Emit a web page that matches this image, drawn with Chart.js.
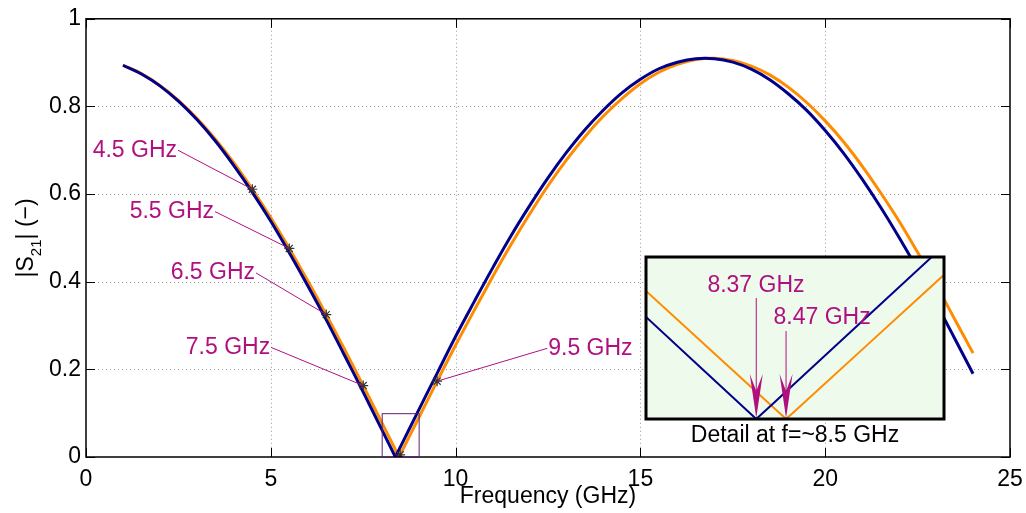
<!DOCTYPE html>
<html>
<head>
<meta charset="utf-8">
<script src="https://cdn.jsdelivr.net/npm/chart.js@4.4.0/dist/chart.umd.min.js"></script>
<style>
  body { margin: 0; background: #fff; }
  #wrap { position: relative; width: 1026px; height: 513px; }
  #mainChart { position: absolute; left: 0; top: 0; }
  #detailChart { position: absolute; left: 630px; top: 245px; }
</style>
</head>
<body>
<div id="wrap">
  <canvas id="mainChart" width="1026" height="513"></canvas>
  <canvas id="detailChart" width="330" height="210"></canvas>
</div>
<script>
// |S21| (GHz, -)
const freqBlue = [1, 1.5, 2, 2.5, 3, 3.5, 4, 4.5, 5, 5.5, 6, 6.5, 7, 7.5, 8, 8.37, 8.5, 9, 9.5, 10,
    10.5, 11, 11.5, 12, 12.5, 13, 13.5, 14, 14.5, 15, 15.5, 16, 16.5, 17, 17.5, 18, 18.5, 19, 19.5, 20,
    20.5, 21, 21.5, 22, 22.5, 23, 23.5, 24];
const s21Blue = [0.894, 0.874, 0.847, 0.812, 0.770, 0.721, 0.665, 0.604, 0.538, 0.466, 0.391, 0.313, 0.231, 0.148, 0.063, 0, 0.022, 0.107, 0.191, 0.275,
    0.354, 0.431, 0.505, 0.573, 0.637, 0.695, 0.747, 0.792, 0.831, 0.862, 0.886, 0.901, 0.909, 0.909, 0.901, 0.885, 0.861, 0.829, 0.791, 0.745,
    0.693, 0.634, 0.570, 0.501, 0.428, 0.351, 0.271, 0.190];

const freqOrange = [1, 1.5, 2, 2.5, 3, 3.5, 4, 4.5, 5, 5.5, 6, 6.5, 7, 7.5, 8, 8.47, 8.5, 9, 9.5, 10,
    10.5, 11, 11.5, 12, 12.5, 13, 13.5, 14, 14.5, 15, 15.5, 16, 16.5, 17, 17.5, 18, 18.5, 19, 19.5, 20,
    20.5, 21, 21.5, 22, 22.5, 23, 23.5, 24];
const s21Orange = [0.894, 0.875, 0.848, 0.814, 0.773, 0.725, 0.671, 0.611, 0.546, 0.476, 0.402, 0.325, 0.245, 0.163, 0.079, 0, 0.005, 0.089, 0.173, 0.255,
    0.334, 0.411, 0.485, 0.554, 0.619, 0.678, 0.731, 0.778, 0.818, 0.852, 0.878, 0.896, 0.907, 0.910, 0.905, 0.892, 0.872, 0.844, 0.809, 0.767,
    0.719, 0.664, 0.603, 0.538, 0.467, 0.393, 0.315, 0.237];

// star markers
const markFreq = [4.5, 5.5, 6.5, 7.5, 8.5, 9.5];
const markVal = [0.611, 0.476, 0.325, 0.163, 0.005, 0.173];

// text arrows on the main plot
const noteText = ["4.5 GHz", "5.5 GHz", "6.5 GHz", "7.5 GHz", "9.5 GHz"];
const noteFreq = [4.5, 5.5, 6.5, 7.5, 9.5];
const noteVal = [0.611, 0.476, 0.325, 0.163, 0.173];
const noteX = [2.49, 3.49, 4.60, 5.01, 12.48];
const noteY = [0.700, 0.560, 0.420, 0.250, 0.248];
const noteAlign = ["right", "right", "right", "right", "left"];

// detail box
const zoomBox = [8, 9, 0, 0.1];
const detailText = ["8.37 GHz", "8.47 GHz"];
const detailFreq = [8.37, 8.47];
const detailTop = [0.0747, 0.0543];
const detailLabelX = [8.369, 8.591];
const detailLabelY = [0.0821, 0.0623];
const detailCaption = "Detail at f=~8.5 GHz";

const xTicks = { min: 0, max: 25, step: 5 };
const yTicks = { min: 0, max: 1, step: 0.2 };

const fontFam = "'Liberation Sans', Arial, sans-serif",
    fontSize = 23,
    blue = "#00008b",
    orange = "#ff8c00",
    magenta = "#b0107f";

function pts(xs, ys) {
    return xs.map((v, i) => ({ x: v, y: ys[i] }));
}

// split a curve at its null so each branch is smoothed on its own (sharp V at the null)
function branches(xs, ys, color, width) {
    let k = ys.indexOf(0);
    let all = pts(xs, ys);
    return [all.slice(0, k + 1), all.slice(k)].map(d => ({
        data: d,
        borderColor: color,
        borderWidth: width,
        pointRadius: 0,
        tension: 0.4
    }));
}

function seg(ctx, x1, y1, x2, y2) {
    ctx.beginPath();
    ctx.moveTo(x1, y1);
    ctx.lineTo(x2, y2);
    ctx.stroke();
}

const mainPlugin = {
    id: "mainDeco",
    beforeDatasetsDraw(chart) {
        let ctx = chart.ctx, a = chart.chartArea, x = chart.scales.x, y = chart.scales.y;
        ctx.save();
        ctx.strokeStyle = "#9a9a9a";
        ctx.lineWidth = 1;
        ctx.setLineDash([1, 3]);
        x.ticks.forEach(t => {
            if (t.value <= x.min || t.value >= x.max) return;
            let px = Math.round(x.getPixelForValue(t.value)) + 0.5;
            seg(ctx, px, a.top, px, a.bottom);
        });
        y.ticks.forEach(t => {
            if (t.value <= y.min || t.value >= y.max) return;
            let py = Math.round(y.getPixelForValue(t.value)) + 0.5;
            seg(ctx, a.left, py, a.right, py);
        });
        ctx.restore();
    },
    afterDatasetsDraw(chart) {
        let ctx = chart.ctx, a = chart.chartArea, x = chart.scales.x, y = chart.scales.y;
        ctx.save();
        // frame + inward ticks
        ctx.strokeStyle = "#000";
        ctx.lineWidth = 1.5;
        ctx.strokeRect(a.left, a.top, a.right - a.left, a.bottom - a.top);
        ctx.lineWidth = 1;
        x.ticks.forEach(t => {
            let px = Math.round(x.getPixelForValue(t.value)) + 0.5;
            seg(ctx, px, a.bottom, px, a.bottom - 9);
            seg(ctx, px, a.top, px, a.top + 9);
        });
        y.ticks.forEach(t => {
            let py = Math.round(y.getPixelForValue(t.value)) + 0.5;
            seg(ctx, a.left, py, a.left + 9, py);
            seg(ctx, a.right, py, a.right - 9, py);
        });

        // zoom rectangle
        ctx.strokeStyle = "#5c1f6e";
        ctx.lineWidth = 1;
        let zx1 = x.getPixelForValue(zoomBox[0]), zx2 = x.getPixelForValue(zoomBox[1]),
            zy1 = y.getPixelForValue(zoomBox[2]), zy2 = y.getPixelForValue(zoomBox[3]);
        ctx.strokeRect(zx1 + 0.5, zy2 + 0.5, zx2 - zx1, zy1 - zy2);

        // text arrows
        ctx.font = fontSize + "px " + fontFam;
        ctx.fillStyle = magenta;
        ctx.strokeStyle = magenta;
        ctx.textBaseline = "middle";
        noteText.forEach((txt, i) => {
            let tx = x.getPixelForValue(noteX[i]), ty = y.getPixelForValue(noteY[i]);
            ctx.textAlign = noteAlign[i];
            ctx.fillText(txt, noteAlign[i] == "right" ? tx - 1 : tx + 1, ty);
            seg(ctx, tx, ty, x.getPixelForValue(noteFreq[i]), y.getPixelForValue(noteVal[i]));
        });

        // axis titles
        ctx.fillStyle = "#000";
        ctx.textAlign = "center";
        ctx.fillText("Frequency (GHz)", (a.left + a.right) / 2, 497);

        ctx.translate(33, (a.top + a.bottom) / 2);
        ctx.rotate(-Math.PI / 2);
        ctx.textBaseline = "alphabetic";
        ctx.textAlign = "left";
        let big = fontSize + "px " + fontFam, small = "15px " + fontFam;
        ctx.font = big;
        let w1 = ctx.measureText("|S").width, w3 = ctx.measureText("| (\u2212)").width;
        ctx.font = small;
        let w2 = ctx.measureText("21").width;
        let sx = -(w1 + w2 + w3) / 2;
        ctx.font = big;
        ctx.fillText("|S", sx, 0);
        ctx.font = small;
        ctx.fillText("21", sx + w1, 8);
        ctx.font = big;
        ctx.fillText("| (\u2212)", sx + w1 + w2, 0);
        ctx.restore();
    }
};

new Chart(document.getElementById("mainChart"), {
    type: "line",
    data: {
        datasets: [
            {
                data: pts(markFreq, markVal),
                showLine: false,
                pointStyle: "star",
                pointRadius: 5,
                pointBorderColor: "#333",
                pointBorderWidth: 1.2
            }
        ].concat(branches(freqBlue, s21Blue, blue, 3), branches(freqOrange, s21Orange, orange, 3))
    },
    options: {
        responsive: false,
        animation: false,
        events: [],
        layout: { padding: { top: 16, right: 16, left: 0, bottom: 0 } },
        scales: {
            x: {
                type: "linear",
                min: xTicks.min,
                max: xTicks.max,
                grid: { display: false },
                border: { display: false },
                ticks: {
                    stepSize: xTicks.step,
                    maxRotation: 0,
                    padding: 1,
                    color: "#000",
                    font: { family: fontFam, size: fontSize }
                },
                afterFit: function (scale) { scale.height = 56; }
            },
            y: {
                min: yTicks.min,
                max: yTicks.max,
                grid: { display: false, drawTicks: false },
                border: { display: false },
                ticks: {
                    stepSize: yTicks.step,
                    padding: 5,
                    color: "#000",
                    font: { family: fontFam, size: fontSize },
                    callback: v => String(+v.toFixed(2))
                },
                afterFit: function (scale) { scale.width = 86; }
            }
        },
        plugins: { legend: { display: false }, tooltip: { enabled: false } }
    },
    plugins: [mainPlugin]
});

const detailPlugin = {
    id: "detailDeco",
    beforeDatasetsDraw(chart) {
        let ctx = chart.ctx, a = chart.chartArea;
        ctx.save();
        ctx.fillStyle = "#eefaec";
        ctx.fillRect(a.left, a.top, a.right - a.left, a.bottom - a.top);
        ctx.restore();
    },
    afterDatasetsDraw(chart) {
        let ctx = chart.ctx, a = chart.chartArea, x = chart.scales.x, y = chart.scales.y;
        ctx.save();
        ctx.fillStyle = magenta;
        ctx.strokeStyle = magenta;
        ctx.lineWidth = 1;
        ctx.font = fontSize + "px " + fontFam;
        ctx.textAlign = "center";
        ctx.textBaseline = "middle";
        detailText.forEach((txt, i) => {
            let px = x.getPixelForValue(detailFreq[i]),
                top = y.getPixelForValue(detailTop[i]),
                tip = y.getPixelForValue(0) - 1;
            seg(ctx, px, top, px, tip - 20);
            ctx.beginPath();
            ctx.moveTo(px, tip);
            ctx.lineTo(px - 6.5, tip - 44);
            ctx.lineTo(px, tip - 27);
            ctx.lineTo(px + 6.5, tip - 44);
            ctx.closePath();
            ctx.fill();
            ctx.fillText(txt, x.getPixelForValue(detailLabelX[i]), y.getPixelForValue(detailLabelY[i]));
        });
        ctx.strokeStyle = "#000";
        ctx.lineWidth = 3;
        ctx.strokeRect(a.left, a.top, a.right - a.left, a.bottom - a.top);
        ctx.fillStyle = "#000";
        ctx.fillText(detailCaption, (a.left + a.right) / 2, a.bottom + 17);
        ctx.restore();
    }
};

new Chart(document.getElementById("detailChart"), {
    type: "line",
    data: {
        datasets: branches(freqBlue, s21Blue, blue, 2).concat(branches(freqOrange, s21Orange, orange, 2))
            .map(d => Object.assign(d, { clip: 0 }))
    },
    options: {
        responsive: false,
        animation: false,
        events: [],
        layout: { padding: { left: 16, top: 12, right: 16, bottom: 36 } },
        scales: {
            x: { type: "linear", min: zoomBox[0], max: zoomBox[1], display: false },
            y: { min: zoomBox[2], max: zoomBox[3], display: false }
        },
        plugins: { legend: { display: false }, tooltip: { enabled: false } }
    },
    plugins: [detailPlugin]
});
</script>
</body>
</html>
